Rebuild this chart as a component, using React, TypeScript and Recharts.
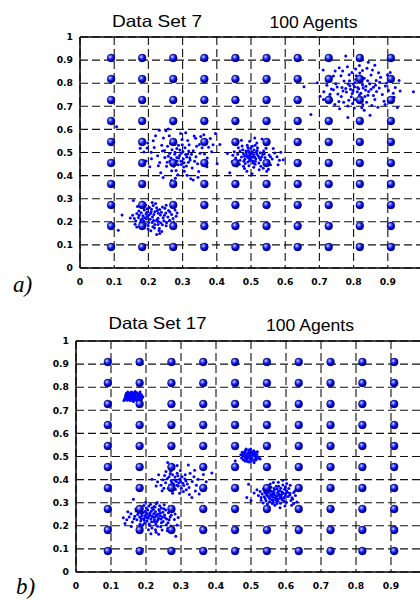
import React from 'react';
import { ScatterChart, Scatter, XAxis, YAxis, CartesianGrid } from 'recharts';

type Pt = [number, number];

const X_TICKS = [0, 0.1, 0.2, 0.3, 0.4, 0.5, 0.6, 0.7, 0.8, 0.9, 1];
const Y_TICKS = [0, 0.1, 0.2, 0.3, 0.4, 0.5, 0.6, 0.7, 0.8, 0.9, 1];
const MINOR_TICKS = [
  0.02, 0.04, 0.06, 0.08, 0.12, 0.14, 0.16, 0.18, 0.22, 0.24, 0.26, 0.28, 0.32, 0.34, 0.36, 0.38,
  0.42, 0.44, 0.46, 0.48, 0.52, 0.54, 0.56, 0.58, 0.62, 0.64, 0.66, 0.68, 0.72, 0.74, 0.76, 0.78,
  0.82, 0.84, 0.86, 0.88, 0.92, 0.94, 0.96, 0.98,
];
// agent positions (10 x 10 lattice)
const AGENT_GRID = [0.0909, 0.1818, 0.2727, 0.3636, 0.4545, 0.5455, 0.6364, 0.7273, 0.8182, 0.9091];

// ---- Data Set 7 ----
const set7LowLeft: Pt[] = [
  [0.212,0.221],[0.193,0.234],[0.224,0.208],[0.201,0.197],[0.235,0.229],[0.182,0.213],[0.208,0.243],[0.243,0.218],[0.197,0.224],[0.219,0.188],
  [0.188,0.251],[0.251,0.238],[0.171,0.219],[0.229,0.201],[0.213,0.179],[0.179,0.239],[0.262,0.207],[0.203,0.262],[0.226,0.249],[0.163,0.204],
  [0.241,0.187],[0.191,0.192],[0.268,0.232],[0.214,0.271],[0.172,0.247],[0.248,0.259],[0.232,0.171],[0.183,0.181],[0.259,0.249],[0.154,0.228],
  [0.199,0.169],[0.278,0.251],[0.221,0.279],[0.168,0.266],[0.239,0.158],[0.192,0.273],[0.159,0.214],[0.253,0.196],[0.207,0.161],[0.272,0.214],
  [0.186,0.203],[0.216,0.232],[0.228,0.215],[0.205,0.211],[0.196,0.241],[0.238,0.241],[0.176,0.196],[0.247,0.228],[0.211,0.197],[0.184,0.226],
  [0.233,0.253],[0.202,0.229],[0.219,0.243],[0.228,0.188],[0.194,0.213],[0.257,0.221],[0.166,0.236],[0.209,0.254],[0.245,0.205],[0.178,0.208],
  [0.236,0.196],[0.215,0.206],[0.189,0.218],[0.224,0.261],[0.199,0.184],[0.263,0.242],[0.173,0.228],[0.206,0.236],[0.252,0.183],[0.187,0.264],
  [0.229,0.237],[0.218,0.173],[0.196,0.256],[0.241,0.264],[0.161,0.189],[0.274,0.199],[0.211,0.284],[0.233,0.149],[0.147,0.216],[0.284,0.238],
  [0.123,0.229],[0.112,0.163],[0.156,0.292],[0.252,0.272],[0.27,0.265],[0.224,0.145],[0.231,0.162],[0.182,0.285],[0.166,0.177],[0.281,0.224],
];
const set7MidLeft: Pt[] = [
  [0.291,0.487],[0.302,0.472],[0.278,0.501],[0.315,0.493],[0.284,0.463],[0.269,0.512],[0.307,0.521],[0.296,0.448],[0.322,0.467],[0.258,0.484],
  [0.288,0.531],[0.274,0.441],[0.331,0.508],[0.311,0.442],[0.247,0.509],[0.263,0.463],[0.298,0.556],[0.339,0.482],[0.281,0.422],[0.239,0.531],
  [0.319,0.534],[0.253,0.441],[0.344,0.451],[0.272,0.548],[0.305,0.419],[0.227,0.486],[0.357,0.521],[0.261,0.572],[0.328,0.433],[0.233,0.457],
  [0.286,0.404],[0.351,0.497],[0.244,0.563],[0.313,0.401],[0.217,0.522],[0.366,0.546],[0.268,0.421],[0.338,0.562],[0.209,0.473],[0.294,0.582],
  [0.372,0.476],[0.251,0.594],[0.324,0.386],[0.198,0.541],[0.381,0.561],[0.236,0.412],[0.347,0.418],[0.187,0.502],[0.362,0.577],[0.221,0.572],
  [0.279,0.388],[0.389,0.534],[0.204,0.438],[0.309,0.586],[0.176,0.518],[0.358,0.461],[0.243,0.392],[0.334,0.571],[0.193,0.463],[0.396,0.582],
  [0.301,0.503],[0.289,0.476],[0.277,0.492],[0.312,0.481],[0.295,0.462],[0.283,0.517],[0.318,0.506],[0.266,0.476],[0.299,0.534],[0.326,0.492],
  [0.271,0.455],[0.304,0.456],[0.262,0.496],[0.287,0.447],[0.335,0.462],[0.256,0.527],[0.292,0.511],[0.317,0.458],[0.276,0.536],[0.341,0.527],
  [0.248,0.478],[0.309,0.491],[0.283,0.478],[0.296,0.497],[0.273,0.468],[0.321,0.477],[0.265,0.539],[0.303,0.437],[0.255,0.458],[0.349,0.535],
  [0.214,0.551],[0.182,0.557],[0.232,0.596],[0.258,0.602],[0.268,0.379],[0.331,0.381],[0.371,0.438],[0.385,0.503],[0.401,0.451],[0.107,0.612],
  [0.271,0.625],[0.229,0.443],[0.196,0.519],[0.364,0.493],[0.376,0.523],[0.241,0.506],[0.315,0.552],[0.345,0.393],[0.208,0.501],[0.353,0.569],
];
const set7Centre: Pt[] = [
  [0.501,0.482],[0.493,0.476],[0.508,0.491],[0.487,0.488],[0.514,0.473],[0.497,0.497],[0.521,0.486],[0.482,0.471],[0.505,0.463],[0.516,0.502],
  [0.478,0.494],[0.528,0.469],[0.491,0.459],[0.509,0.511],[0.472,0.481],[0.534,0.491],[0.499,0.518],[0.485,0.507],[0.523,0.455],[0.468,0.466],
  [0.541,0.478],[0.512,0.449],[0.476,0.512],[0.537,0.506],[0.494,0.443],[0.461,0.492],[0.548,0.463],[0.504,0.527],[0.519,0.521],[0.483,0.452],
  [0.455,0.476],[0.553,0.489],[0.489,0.531],[0.529,0.441],[0.466,0.449],[0.544,0.518],[0.508,0.436],[0.451,0.503],[0.562,0.472],[0.474,0.528],
  [0.498,0.471],[0.506,0.479],[0.495,0.487],[0.511,0.481],[0.502,0.494],[0.489,0.481],[0.517,0.494],[0.496,0.465],[0.503,0.503],[0.486,0.498],
  [0.524,0.477],[0.492,0.509],[0.513,0.462],[0.481,0.484],[0.527,0.499],[0.479,0.462],[0.531,0.481],[0.507,0.455],[0.491,0.522],[0.518,0.509],
  [0.445,0.461],[0.569,0.498],[0.536,0.432],[0.463,0.521],[0.557,0.447],[0.517,0.541],[0.481,0.431],[0.541,0.537],[0.447,0.488],[0.576,0.482],
  [0.496,0.549],[0.524,0.425],[0.459,0.442],[0.583,0.466],[0.438,0.412],[0.409,0.535],[0.594,0.469],[0.551,0.427],[0.472,0.553],[0.532,0.558],
  [0.488,0.419],[0.565,0.517],[0.455,0.535],[0.511,0.563],[0.579,0.447],[0.431,0.496],[0.546,0.419],[0.503,0.408],[0.587,0.501],[0.468,0.506],
  [0.539,0.495],[0.512,0.531],[0.478,0.441],[0.557,0.482],[0.494,0.501],
];
const set7UpRight: Pt[] = [
  [0.812,0.781],[0.798,0.768],[0.826,0.792],[0.804,0.803],[0.835,0.771],[0.789,0.789],[0.821,0.756],[0.847,0.798],[0.779,0.762],[0.815,0.817],
  [0.842,0.748],[0.766,0.781],[0.793,0.741],[0.858,0.782],[0.808,0.832],[0.772,0.809],[0.831,0.821],[0.754,0.753],[0.867,0.764],[0.786,0.726],
  [0.851,0.836],[0.741,0.772],[0.819,0.733],[0.876,0.804],[0.763,0.832],[0.838,0.718],[0.795,0.846],[0.884,0.751],[0.748,0.798],[0.862,0.729],
  [0.731,0.752],[0.826,0.855],[0.893,0.788],[0.757,0.721],[0.873,0.845],[0.783,0.701],[0.722,0.791],[0.902,0.768],[0.806,0.862],[0.741,0.831],
  [0.889,0.722],[0.768,0.853],[0.853,0.703],[0.713,0.763],[0.911,0.817],[0.797,0.712],[0.736,0.727],[0.879,0.826],[0.824,0.694],[0.758,0.867],
  [0.815,0.776],[0.803,0.785],[0.828,0.779],[0.811,0.763],[0.799,0.797],[0.836,0.787],[0.791,0.774],[0.823,0.806],[0.844,0.764],[0.784,0.796],
  [0.817,0.749],[0.807,0.817],[0.851,0.774],[0.777,0.777],[0.833,0.742],[0.796,0.755],[0.864,0.791],[0.769,0.766],[0.841,0.811],[0.788,0.811],
  [0.726,0.812],[0.918,0.739],[0.764,0.742],[0.907,0.846],[0.745,0.708],[0.871,0.696],[0.702,0.743],[0.922,0.781],[0.817,0.877],[0.782,0.871],
  [0.928,0.695],[0.711,0.857],[0.777,0.918],[0.783,0.651],[0.848,0.661],[0.675,0.664],[0.655,0.785],[0.975,0.763],[0.933,0.812],[0.862,0.878],
  [0.839,0.865],[0.892,0.708],[0.752,0.784],[0.858,0.747],[0.805,0.729],[0.735,0.775],[0.897,0.801],[0.771,0.718],[0.866,0.812],[0.818,0.844],
  [0.694,0.802],[0.729,0.741],[0.899,0.835],[0.831,0.683],[0.746,0.853],[0.855,0.857],[0.916,0.756],[0.759,0.689],[0.827,0.707],[0.787,0.837],
  [0.875,0.779],[0.712,0.729],[0.843,0.891],[0.936,0.766],[0.802,0.693],
];

// ---- Data Set 17 ----
const set17UpLeft: Pt[] = [
  [0.163,0.759],[0.156,0.764],[0.171,0.753],[0.149,0.757],[0.178,0.766],[0.161,0.771],[0.168,0.745],[0.152,0.746],[0.184,0.756],[0.145,0.768],
  [0.174,0.776],[0.158,0.779],[0.166,0.763],[0.181,0.748],[0.143,0.751],[0.187,0.767],[0.154,0.772],[0.176,0.741],[0.162,0.742],[0.147,0.762],
  [0.169,0.781],[0.159,0.752],[0.172,0.761],[0.151,0.775],[0.182,0.773],[0.165,0.751],[0.155,0.742],[0.179,0.758],[0.146,0.744],[0.188,0.751],
  [0.167,0.769],[0.153,0.759],[0.175,0.749],[0.141,0.757],[0.163,0.776],[0.185,0.761],[0.157,0.747],[0.177,0.771],[0.149,0.769],[0.17,0.758],
  [0.137,0.742],[0.191,0.759],[0.16,0.766],[0.173,0.744],[0.144,0.774],[0.183,0.779],[0.164,0.738],[0.15,0.751],[0.179,0.753],[0.158,0.756],
  [0.168,0.774],[0.154,0.766],[0.186,0.745],[0.142,0.764],[0.175,0.763],[0.161,0.748],[0.166,0.757],[0.148,0.779],[0.18,0.764],[0.139,0.748],
];
const set17Centre: Pt[] = [
  [0.494,0.503],[0.488,0.509],[0.501,0.497],[0.482,0.499],[0.507,0.511],[0.491,0.516],[0.498,0.489],[0.479,0.511],[0.511,0.501],[0.485,0.491],
  [0.504,0.521],[0.496,0.524],[0.476,0.503],[0.514,0.492],[0.489,0.484],[0.509,0.483],[0.482,0.52],[0.517,0.509],[0.473,0.493],[0.499,0.511],
  [0.492,0.495],[0.506,0.505],[0.486,0.503],[0.501,0.482],[0.478,0.486],[0.512,0.517],[0.493,0.528],[0.497,0.506],[0.519,0.498],[0.471,0.508],
  [0.484,0.526],[0.503,0.491],[0.508,0.525],[0.49,0.478],[0.515,0.486],[0.481,0.514],[0.495,0.517],[0.502,0.514],[0.487,0.497],[0.511,0.507],
  [0.475,0.518],[0.523,0.492],[0.526,0.489],[0.455,0.481],[0.499,0.533],[0.486,0.532],[0.509,0.474],[0.495,0.476],[0.483,0.48],[0.518,0.521],
];
const set17LowLeft: Pt[] = [
  [0.218,0.241],[0.206,0.236],[0.229,0.248],[0.211,0.254],[0.236,0.233],[0.198,0.245],[0.224,0.226],[0.241,0.255],[0.193,0.231],[0.215,0.263],
  [0.247,0.238],[0.187,0.252],[0.231,0.219],[0.203,0.221],[0.253,0.247],[0.221,0.271],[0.182,0.238],[0.238,0.266],[0.197,0.262],[0.259,0.229],
  [0.209,0.208],[0.176,0.249],[0.244,0.213],[0.226,0.281],[0.264,0.256],[0.185,0.221],[0.233,0.198],[0.172,0.264],[0.251,0.274],[0.201,0.277],
  [0.269,0.238],[0.191,0.203],[0.217,0.191],[0.258,0.205],[0.166,0.231],[0.239,0.287],[0.274,0.261],[0.178,0.279],[0.213,0.293],[0.262,0.188],
  [0.207,0.183],[0.281,0.227],[0.161,0.216],[0.246,0.182],[0.186,0.193],[0.277,0.271],[0.229,0.172],[0.157,0.252],[0.194,0.288],[0.267,0.283],
  [0.219,0.238],[0.212,0.246],[0.225,0.237],[0.208,0.244],[0.222,0.252],[0.214,0.229],[0.232,0.242],[0.203,0.253],[0.227,0.261],[0.199,0.237],
  [0.235,0.251],[0.216,0.218],[0.243,0.229],[0.205,0.268],[0.189,0.244],[0.237,0.271],[0.248,0.259],[0.195,0.224],[0.228,0.208],[0.254,0.236],
  [0.179,0.258],[0.223,0.284],[0.183,0.207],[0.272,0.246],[0.168,0.241],[0.256,0.268],[0.211,0.201],[0.242,0.196],[0.174,0.226],[0.263,0.213],
  [0.152,0.238],[0.164,0.315],[0.285,0.155],[0.135,0.235],[0.14,0.21],[0.236,0.163],[0.214,0.166],[0.289,0.203],[0.283,0.251],[0.199,0.302],
  [0.232,0.301],[0.145,0.226],[0.158,0.197],[0.271,0.199],[0.252,0.291],[0.188,0.274],[0.261,0.179],[0.205,0.233],[0.224,0.218],[0.241,0.244],
  [0.192,0.257],[0.217,0.277],[0.234,0.226],[0.186,0.231],[0.266,0.226],[0.249,0.219],[0.171,0.273],[0.229,0.295],[0.196,0.211],[0.278,0.184],
  [0.148,0.261],[0.208,0.286],[0.244,0.277],[0.292,0.236],[0.227,0.183],
];
const set17MidLeft: Pt[] = [
  [0.287,0.392],[0.279,0.381],[0.296,0.401],[0.272,0.396],[0.305,0.384],[0.283,0.411],[0.292,0.372],[0.268,0.377],[0.311,0.403],[0.276,0.421],
  [0.301,0.363],[0.261,0.405],[0.318,0.381],[0.289,0.428],[0.256,0.386],[0.323,0.366],[0.284,0.358],[0.312,0.421],[0.248,0.399],[0.298,0.439],
  [0.264,0.361],[0.332,0.392],[0.271,0.436],[0.307,0.348],[0.243,0.376],[0.337,0.412],[0.279,0.449],[0.315,0.356],[0.253,0.418],[0.344,0.376],
  [0.262,0.474],[0.321,0.463],[0.388,0.429],[0.331,0.322],[0.217,0.401],[0.233,0.391],[0.349,0.401],[0.296,0.341],[0.358,0.363],[0.229,0.372],
  [0.364,0.422],[0.276,0.341],[0.339,0.441],[0.246,0.352],[0.352,0.338],[0.257,0.435],[0.372,0.391],[0.289,0.461],[0.236,0.421],[0.324,0.336],
  [0.294,0.385],[0.282,0.398],[0.299,0.392],[0.274,0.387],[0.303,0.412],[0.288,0.376],[0.266,0.412],[0.314,0.394],[0.291,0.417],[0.277,0.366],
  [0.308,0.374],[0.269,0.425],[0.326,0.427],[0.251,0.363],[0.341,0.351],
];
const set17MidRight: Pt[] = [
  [0.571,0.331],[0.562,0.324],[0.579,0.338],[0.556,0.336],[0.586,0.326],[0.566,0.343],[0.574,0.317],[0.549,0.328],[0.592,0.341],[0.559,0.312],
  [0.583,0.352],[0.542,0.341],[0.598,0.329],[0.567,0.355],[0.553,0.318],[0.604,0.345],[0.577,0.306],[0.538,0.326],[0.589,0.312],[0.548,0.354],
  [0.611,0.333],[0.563,0.301],[0.596,0.358],[0.532,0.338],[0.617,0.321],[0.557,0.367],[0.584,0.298],[0.543,0.307],[0.608,0.361],[0.526,0.349],
  [0.622,0.344],[0.572,0.371],[0.601,0.302],[0.536,0.362],[0.591,0.377],[0.547,0.294],[0.614,0.309],[0.521,0.331],[0.568,0.289],[0.627,0.331],
  [0.573,0.328],[0.565,0.334],[0.581,0.331],[0.569,0.321],[0.576,0.343],[0.558,0.331],[0.587,0.336],[0.561,0.347],[0.594,0.321],[0.552,0.322],
  [0.578,0.349],[0.545,0.333],[0.599,0.339],[0.564,0.311],[0.588,0.318],[0.551,0.345],[0.606,0.327],[0.539,0.347],[0.575,0.359],[0.561,0.296],
  [0.493,0.38],[0.488,0.322],[0.5,0.31],[0.591,0.397],[0.631,0.303],[0.578,0.388],[0.555,0.381],[0.612,0.376],[0.529,0.311],[0.597,0.286],
  [0.544,0.281],[0.626,0.352],[0.517,0.356],[0.583,0.278],[0.622,0.296],[0.564,0.387],[0.509,0.342],[0.602,0.383],[0.535,0.299],[0.616,0.289],
  [0.574,0.296],[0.585,0.363],[0.548,0.368],[0.553,0.304],[0.602,0.351],[0.529,0.322],[0.589,0.346],[0.572,0.311],[0.541,0.317],[0.611,0.341],
  [0.566,0.362],[0.594,0.307],[0.557,0.351],[0.619,0.316],[0.537,0.356],[0.581,0.318],[0.563,0.339],[0.598,0.368],[0.546,0.339],[0.579,0.371],
];

const agents = AGENT_GRID.flatMap((y) => AGENT_GRID.map((x) => ({ x, y })));
const toXY = (pts: Pt[]) => pts.map(([x, y]) => ({ x, y }));

const tickFont = { fontFamily: '"DejaVu Sans", Verdana, sans-serif', fontSize: 9.2, fontWeight: 700, fill: '#000' };
const frame = { stroke: '#000', strokeWidth: 1.5 };
const tickStroke = { stroke: '#000', strokeWidth: 1.2 };
// the "1" at the right end of the x axis falls outside the picture
const xLabel = (v: number) => (v === 1 ? '' : String(v));

const Dot = (p: any) => <circle cx={p.cx} cy={p.cy} r={1.5} fill="#0000ff" />;
const Ball = (p: any) => (
  <circle cx={p.cx} cy={p.cy} r={3.9} fill="url(#agentBall)" stroke="#00004a" strokeWidth={0.5} />
);

function Panel({ top, margin, clusters }: { top: number; margin: any; clusters: Pt[][] }) {
  return (
    <div style={{ position: 'absolute', left: 0, top }}>
      <ScatterChart width={440} height={margin.top + 231 + 25} margin={margin}>
        <CartesianGrid stroke="#111" strokeWidth={1.1} strokeDasharray="8 4" />
        <XAxis type="number" dataKey="x" domain={[0, 1]} ticks={X_TICKS} interval={0} allowDataOverflow
          tickLine={false} tickSize={8} tickMargin={2} height={20} axisLine={frame} tick={tickFont}
          tickFormatter={xLabel} />
        <XAxis xAxisId="xMaj" type="number" domain={[0, 1]} ticks={X_TICKS} interval={0} mirror
          tick={false} tickSize={6} axisLine={false} tickLine={tickStroke} />
        <XAxis xAxisId="xMin" type="number" domain={[0, 1]} ticks={MINOR_TICKS} interval={0} mirror
          tick={false} tickSize={3} axisLine={false} tickLine={tickStroke} />
        <XAxis xAxisId="xTop" orientation="top" type="number" domain={[0, 1]} ticks={X_TICKS} interval={0} mirror
          tick={false} tickSize={6} axisLine={frame} tickLine={tickStroke} />
        <YAxis type="number" dataKey="y" domain={[0, 1]} ticks={Y_TICKS} interval={0} allowDataOverflow
          tickLine={false} tickSize={5} tickMargin={2} width={30} axisLine={frame} tick={tickFont} />
        <YAxis yAxisId="yMaj" type="number" domain={[0, 1]} ticks={Y_TICKS} interval={0} mirror
          tick={false} tickSize={6} axisLine={false} tickLine={tickStroke} />
        <YAxis yAxisId="yMin" type="number" domain={[0, 1]} ticks={MINOR_TICKS} interval={0} mirror
          tick={false} tickSize={3} axisLine={false} tickLine={tickStroke} />
        {clusters.map((c, i) => (
          <Scatter key={i} data={toXY(c)} shape={Dot} isAnimationActive={false} />
        ))}
        <Scatter data={agents} shape={Ball} isAnimationActive={false} />
      </ScatterChart>
    </div>
  );
}

const titleFont = 'Arial, "Liberation Sans", sans-serif';

export default function App() {
  return (
    <div style={{ position: 'fixed', left: 0, top: 0, width: 420, height: 600, overflow: 'hidden', background: '#fff' }}>
      <Panel top={0} margin={{ top: 37, right: 18, bottom: 5, left: 50 }}
        clusters={[set7LowLeft, set7MidLeft, set7Centre, set7UpRight]} />
      <Panel top={300} margin={{ top: 41, right: 14, bottom: 5, left: 46 }}
        clusters={[set17UpLeft, set17Centre, set17LowLeft, set17MidLeft, set17MidRight]} />
      <svg width={420} height={600} style={{ position: 'absolute', left: 0, top: 0, pointerEvents: 'none' }}>
        <defs>
          <radialGradient id="agentBall" cx="38%" cy="35%" r="70%">
            <stop offset="0%" stopColor="#f0f4ff" />
            <stop offset="22%" stopColor="#6070ff" />
            <stop offset="55%" stopColor="#0a0ae6" />
            <stop offset="100%" stopColor="#00006a" />
          </radialGradient>
        </defs>
        <g fontFamily={titleFont} fontSize={16.5} fill="#000">
          <text x={112} y={26.7} textLength={90} lengthAdjust="spacingAndGlyphs">Data Set 7</text>
          <text x={269.5} y={28.3} textLength={88} lengthAdjust="spacingAndGlyphs">100 Agents</text>
          <text x={108.5} y={329.3} textLength={98} lengthAdjust="spacingAndGlyphs">Data Set 17</text>
          <text x={266} y={330.7} textLength={88} lengthAdjust="spacingAndGlyphs">100 Agents</text>
        </g>
        <g fontFamily='"Liberation Serif", "Times New Roman", serif' fontStyle="italic" fontSize={23} fill="#000">
          <text x={13} y={292}>a)</text>
          <text x={16} y={594}>b)</text>
        </g>
      </svg>
    </div>
  );
}
